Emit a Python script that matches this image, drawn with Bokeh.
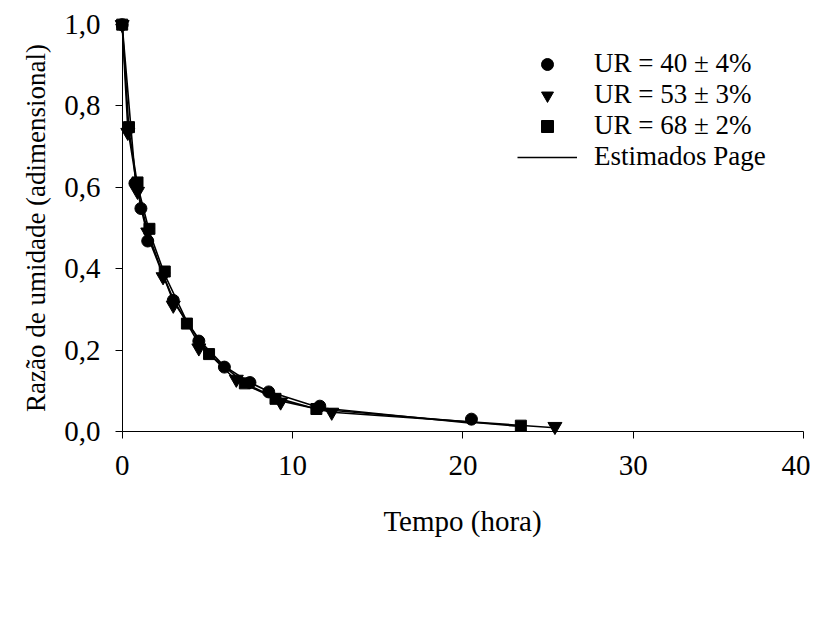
from bokeh.plotting import figure
from bokeh.models import (Range1d, FixedTicker, CustomJSTickFormatter, Legend, LegendItem,
                          LinearAxis)
from bokeh.embed import file_html
from bokeh.resources import INLINE

# ---- data ----
t40 = [0, 0.75, 1.1, 1.5, 3.0, 4.5, 6.0, 7.5, 8.6, 11.6, 20.5]
mr40 = [1.0, 0.61, 0.548, 0.468, 0.322, 0.222, 0.158, 0.12, 0.097, 0.062, 0.03]
est40 = [1.0, 0.63, 0.55, 0.48, 0.32, 0.225, 0.16, 0.12, 0.098, 0.058, 0.02]

t53 = [0, 0.33, 0.9, 1.5, 2.4, 3.0, 4.5, 6.7, 9.3, 12.3, 25.4]
mr53 = [1.0, 0.735, 0.59, 0.49, 0.38, 0.31, 0.205, 0.128, 0.072, 0.047, 0.012]
est53 = [1.0, 0.745, 0.595, 0.49, 0.385, 0.325, 0.215, 0.125, 0.075, 0.047, 0.009]

t68 = [0, 0.4, 0.9, 1.6, 2.5, 3.8, 5.1, 7.2, 9.0, 11.4, 23.4]
mr68 = [1.0, 0.748, 0.612, 0.498, 0.393, 0.265, 0.19, 0.118, 0.08, 0.055, 0.014]
est68 = [1.0, 0.74, 0.605, 0.49, 0.385, 0.27, 0.19, 0.118, 0.083, 0.055, 0.012]

labels = ["UR = 40 \u00b1 4%", "UR = 53 \u00b1 3%", "UR = 68 \u00b1 2%", "Estimados Page"]
x_ticks = [0, 10, 20, 30, 40]
y_ticks = [0.0, 0.2, 0.4, 0.6, 0.8, 1.0]

FONT = "Liberation Serif"

p = figure(width=810, height=607, output_backend="svg", toolbar_location=None,
           x_range=Range1d(-0.45, 40.4), y_range=Range1d(-0.02, 1.02),
           min_border_left=114, min_border_right=0, min_border_top=16, min_border_bottom=168)
p.outline_line_color = None
p.xgrid.visible = False
p.ygrid.visible = False
p.background_fill_color = "white"
p.border_fill_color = "white"

l1 = p.line(t40, est40, line_color="black", line_width=1.6)
p.line(t53, est53, line_color="black", line_width=1.6)
p.line(t68, est68, line_color="black", line_width=1.6)

s1 = p.scatter(t40, mr40, marker="circle", size=12, fill_color="black", line_color="black")
s2 = p.scatter(t53, mr53, marker="inverted_triangle", size=14, fill_color="black", line_color="black")
s3 = p.scatter(t68, mr68, marker="square", size=11, fill_color="black", line_color="black")

fmt = CustomJSTickFormatter(code="return tick.toFixed(1).replace('.', ',');")

# frame-edge axes: only tick labels and titles
for ax in (p.xaxis[0], p.yaxis[0]):
    ax.axis_line_color = None
    ax.major_tick_line_color = None
    ax.major_tick_in = 0
    ax.major_tick_out = 0
    ax.minor_tick_line_color = None
    ax.major_label_text_font = FONT
    ax.major_label_text_font_size = "29px"
    ax.major_label_text_color = "black"
    ax.axis_label_text_font = FONT
    ax.axis_label_text_font_style = "normal"
    ax.axis_label_text_color = "black"

p.xaxis.ticker = FixedTicker(ticks=x_ticks)
p.yaxis.ticker = FixedTicker(ticks=y_ticks)
p.yaxis.formatter = fmt
p.xaxis.axis_label = "Tempo (hora)"
p.yaxis.axis_label = "Raz\u00e3o de umidade (adimensional)"
p.xaxis.axis_label_text_font_size = "29px"
p.yaxis.axis_label_text_font_size = "27px"
p.xaxis.major_label_standoff = 16
p.yaxis.major_label_standoff = 14
p.xaxis.axis_label_standoff = 27
p.yaxis.axis_label_standoff = 10

# axis lines and ticks crossing at the origin
blank = CustomJSTickFormatter(code="return '';")
xline = LinearAxis(fixed_location=0, bounds=(0, 40), ticker=FixedTicker(ticks=x_ticks),
                   formatter=blank)
yline = LinearAxis(fixed_location=0, bounds=(0, 1), ticker=FixedTicker(ticks=y_ticks),
                   formatter=blank)
for ax in (xline, yline):
    ax.axis_line_color = "black"
    ax.axis_line_width = 1
    ax.major_tick_line_color = "black"
    ax.major_tick_in = 0
    ax.major_tick_out = 7
    ax.minor_tick_line_color = None
p.add_layout(xline, "below")
p.add_layout(yline, "left")

legend = Legend(items=[
    LegendItem(label=labels[0], renderers=[s1]),
    LegendItem(label=labels[1], renderers=[s2]),
    LegendItem(label=labels[2], renderers=[s3]),
    LegendItem(label=labels[3], renderers=[l1]),
], location=(403, 267))
legend.border_line_color = None
legend.background_fill_alpha = 0
legend.padding = 0
legend.margin = 0
legend.spacing = 0
legend.glyph_width = 60
legend.glyph_height = 30
legend.label_height = 30
legend.label_standoff = 17
legend.label_text_font = FONT
legend.label_text_font_size = "27px"
legend.label_text_color = "black"
p.add_layout(legend)

open("out.html", "w").write(file_html(p, INLINE))
